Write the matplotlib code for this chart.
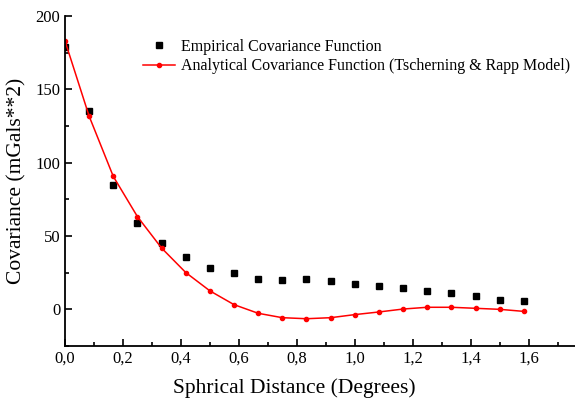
import matplotlib
matplotlib.use("Agg")
import matplotlib.pyplot as plt
from matplotlib.ticker import MultipleLocator, FuncFormatter

plt.rcParams['font.family'] = ['Liberation Serif', 'DejaVu Serif']

dist = [0.0, 0.0833, 0.1667, 0.25, 0.3333, 0.4167, 0.5, 0.5833, 0.6667, 0.75,
        0.8333, 0.9167, 1.0, 1.0833, 1.1667, 1.25, 1.3333, 1.4167, 1.5, 1.5833]
empirical = [179, 135, 85, 59, 45, 35.6, 28, 24.9, 20.8, 20.1,
             20.5, 19.6, 17.1, 15.8, 14.4, 12.5, 11.0, 9.1, 6.6, 5.7]
analytical = [183, 131.7, 90.6, 63.2, 41.8, 25.1, 12.6, 3.2, -2.7, -5.7,
              -6.4, -5.7, -3.6, -1.8, 0.2, 1.4, 1.4, 0.7, 0.0, -1.4]

fig = plt.figure(figsize=(5.75, 4.03), dpi=100)
ax = fig.add_axes([65/575, 1-346/403, 1-65/575, (346-16)/403])

ax.plot(dist, empirical, ls='none', marker='s', ms=4, color='black',
        label='Empirical Covariance Function')
ax.plot(dist, analytical, '-', color='red', lw=1.1, marker='o', ms=3,
        label='Analytical Covariance Function (Tscherning & Rapp Model)')

ax.set_xlim(0, 1.76)
ax.set_ylim(-25, 200)
ax.xaxis.set_major_locator(MultipleLocator(0.2))
ax.xaxis.set_minor_locator(MultipleLocator(0.1))
ax.yaxis.set_major_locator(MultipleLocator(50))
ax.yaxis.set_minor_locator(MultipleLocator(25))
ax.xaxis.set_major_formatter(FuncFormatter(lambda v, p: f"{v:.1f}".replace('.', ',')))
ax.tick_params(which='both', direction='in', labelsize=12, width=1.2)
ax.tick_params(which='major', length=5)
ax.tick_params(which='minor', length=3)
for s in ['top', 'right']:
    ax.spines[s].set_visible(False)
for s in ['left', 'bottom']:
    ax.spines[s].set_linewidth(1.3)

ax.set_xlabel('Sphrical Distance (Degrees)', fontsize=15.5)
ax.xaxis.set_label_coords((294-65)/510, -0.097)
ax.set_ylabel('Covariance (mGals**2)', fontsize=15.5, labelpad=6)

ax.legend(loc='upper left', bbox_to_anchor=(143/575, 1-39/403),
          bbox_transform=fig.transFigure, frameon=False, fontsize=11.5,
          handlelength=2.0, handletextpad=0.35, labelspacing=0.2,
          borderpad=0, borderaxespad=0)

fig.savefig('out.png', dpi=100)
